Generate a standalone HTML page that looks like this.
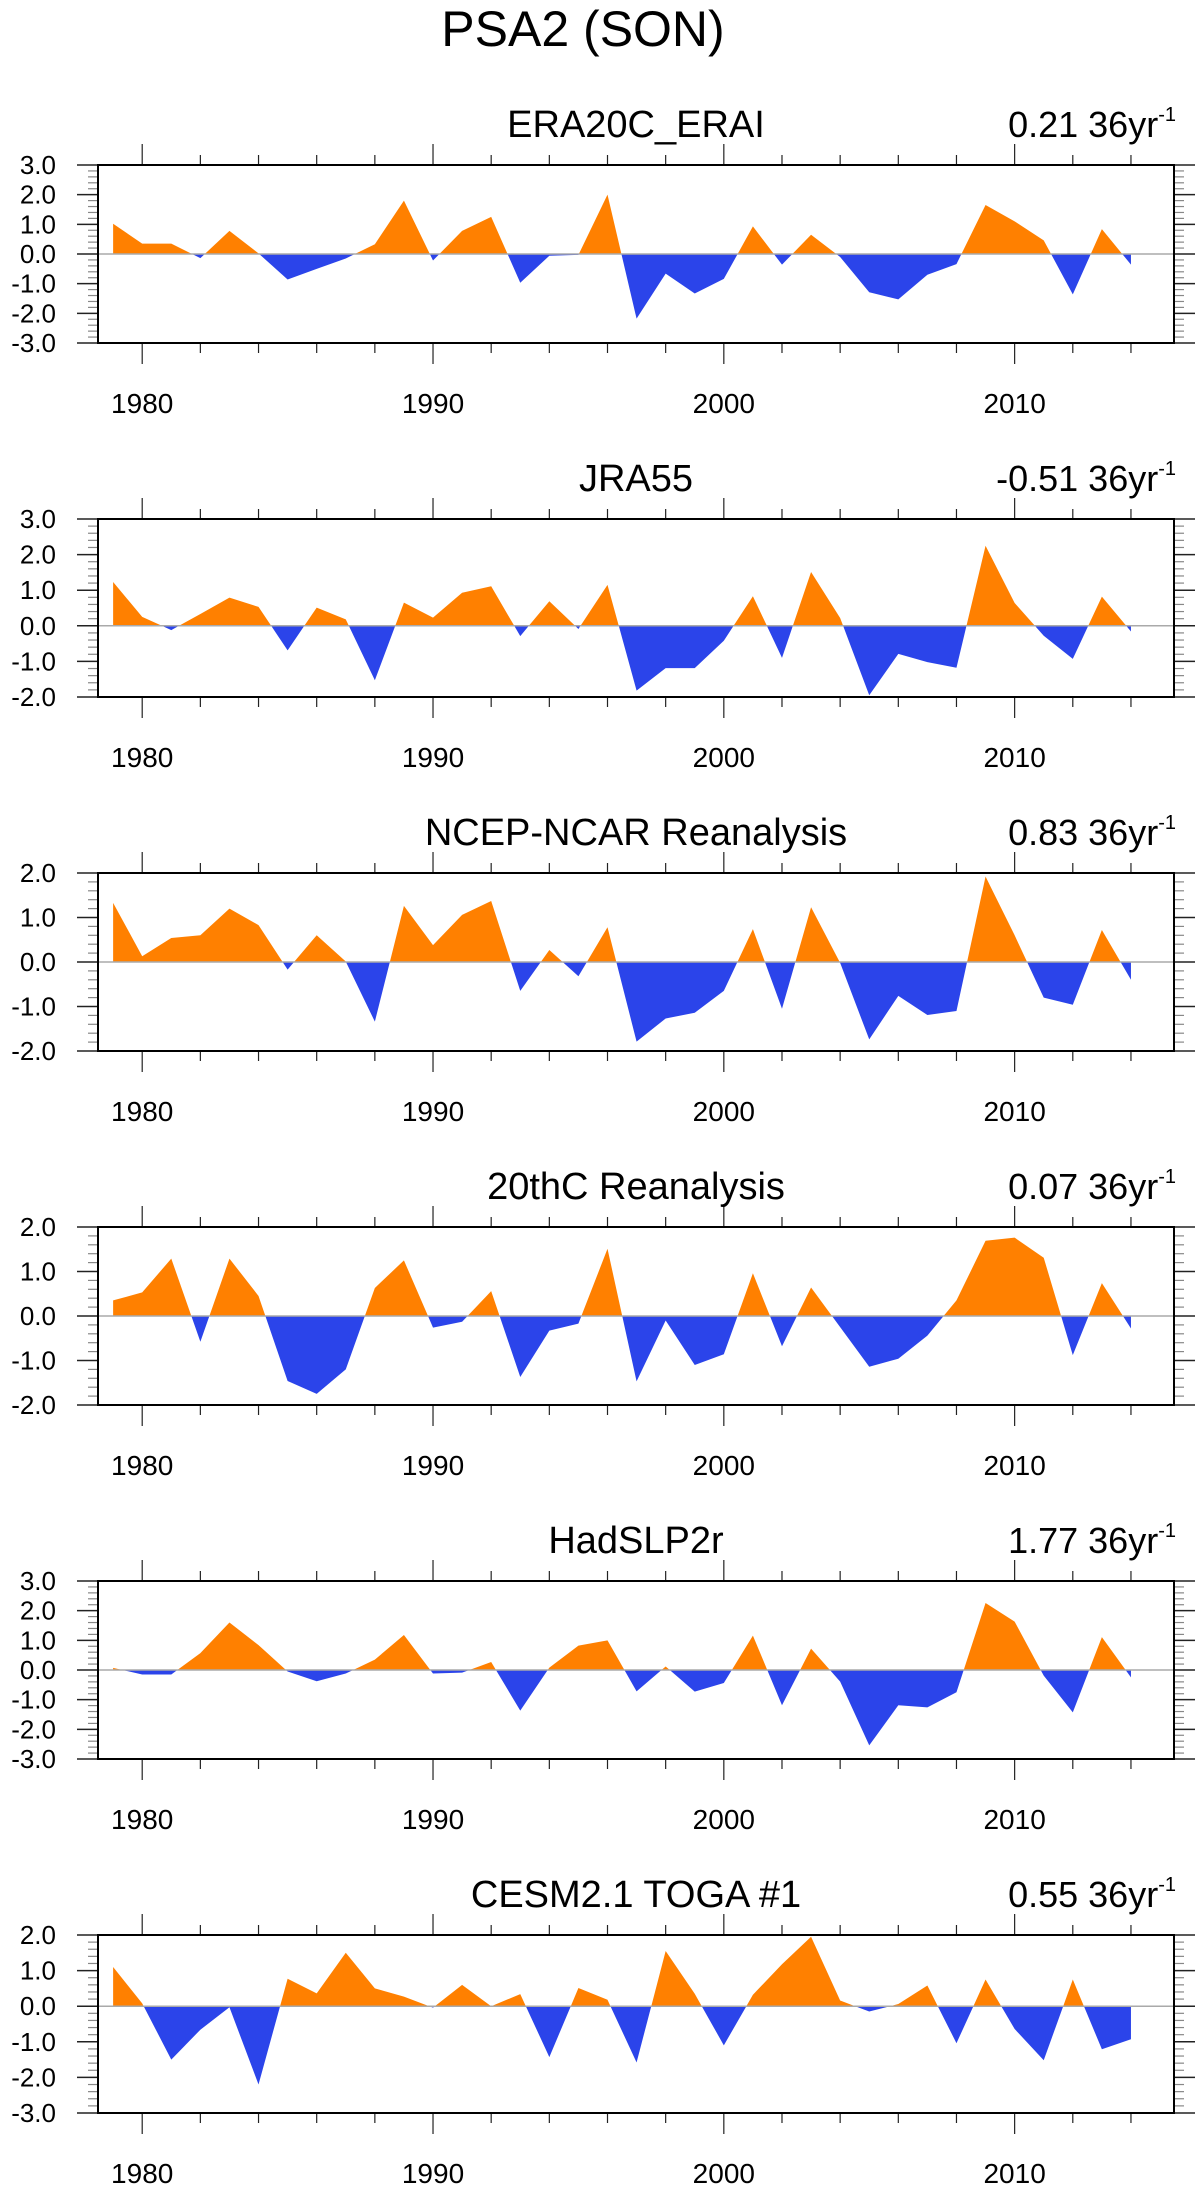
<!DOCTYPE html>
<html><head><meta charset="utf-8"><style>
html,body{margin:0;padding:0;background:#fff;}
svg{display:block;font-family:"Liberation Sans",sans-serif;}
</style></head><body>
<svg id="fig" width="1198" height="2186" viewBox="0 0 1198 2186" xmlns="http://www.w3.org/2000/svg">
<text x="583" y="46" font-size="50" text-anchor="middle">PSA2 (SON)</text>
</svg>
<script>
const years = [];
for (let y = 1979; y <= 2014; y++) years.push(y);
const panelNames = ["ERA20C_ERAI","JRA55","NCEP-NCAR Reanalysis","20thC Reanalysis","HadSLP2r","CESM2.1 TOGA #1"];
const trendLabels = ["0.21","-0.51","0.83","0.07","1.77","0.55"];
const yMins = [-3,-2,-2,-2,-3,-3];
const yMaxs = [3,3,2,2,3,2];
const seriesEra20c = [1.02,0.35,0.35,-0.14,0.78,0.02,-0.86,-0.5,-0.15,0.33,1.8,-0.22,0.78,1.25,-0.97,-0.06,-0.03,2.0,-2.18,-0.66,-1.33,-0.84,0.93,-0.36,0.65,-0.1,-1.29,-1.53,-0.7,-0.34,1.65,1.1,0.46,-1.36,0.84,-0.36];
const seriesJra55 = [1.23,0.25,-0.12,0.33,0.79,0.53,-0.69,0.51,0.18,-1.53,0.65,0.23,0.93,1.11,-0.29,0.69,-0.09,1.15,-1.82,-1.19,-1.19,-0.42,0.83,-0.9,1.51,0.22,-1.95,-0.79,-1.02,-1.18,2.25,0.64,-0.28,-0.93,0.82,-0.16];
const seriesNcep = [1.33,0.13,0.54,0.6,1.2,0.83,-0.17,0.6,0.01,-1.34,1.26,0.38,1.06,1.37,-0.65,0.27,-0.32,0.78,-1.79,-1.27,-1.14,-0.65,0.74,-1.05,1.23,-0.02,-1.74,-0.76,-1.19,-1.1,1.92,0.6,-0.8,-0.96,0.72,-0.4];
const series20c = [0.35,0.53,1.29,-0.58,1.29,0.45,-1.46,-1.75,-1.2,0.63,1.25,-0.26,-0.13,0.56,-1.37,-0.33,-0.17,1.51,-1.47,-0.1,-1.1,-0.86,0.96,-0.68,0.64,-0.25,-1.14,-0.96,-0.44,0.35,1.69,1.76,1.31,-0.88,0.74,-0.28];
const seriesHadslp = [0.07,-0.15,-0.15,0.57,1.6,0.84,-0.05,-0.38,-0.12,0.35,1.18,-0.12,-0.09,0.27,-1.37,0.08,0.82,1.0,-0.72,0.12,-0.73,-0.44,1.16,-1.19,0.72,-0.39,-2.54,-1.19,-1.26,-0.75,2.26,1.63,-0.19,-1.43,1.11,-0.25];
const seriesCesm = [1.1,0.08,-1.5,-0.66,-0.03,-2.2,0.77,0.36,1.5,0.5,0.27,-0.04,0.6,0.0,0.34,-1.43,0.51,0.18,-1.58,1.55,0.35,-1.1,0.32,1.18,1.95,0.16,-0.15,0.06,0.58,-1.04,0.75,-0.64,-1.52,0.75,-1.21,-0.93];
const allSeries = [seriesEra20c,seriesJra55,seriesNcep,series20c,seriesHadslp,seriesCesm];
const yearTickLabels = [1980,1990,2000,2010];

const NS = "http://www.w3.org/2000/svg";
const svg = document.getElementById("fig");
const L = 98, R = 1174, H = 178;
const tops = [165,519,873,1227,1581,1935];
const X0 = 1978.48, X1 = 2015.48;
function xs(yr){ return L + (yr - X0) / (X1 - X0) * (R - L); }
function mk(tag, attrs, parent){
  const e = document.createElementNS(NS, tag);
  for (const k in attrs) e.setAttribute(k, attrs[k]);
  (parent || svg).appendChild(e);
  return e;
}

allSeries.forEach((vals, p) => {
  const top = tops[p], bot = top + H, ymin = yMins[p], ymax = yMaxs[p];
  const ys = v => bot - (v - ymin) / (ymax - ymin) * H;
  const g = mk("g", {});
  
  

  const pts = [];
  for (let i = 0; i < vals.length; i++) {
    if (i > 0) {
      const a = vals[i-1], b = vals[i];
      if ((a > 0 && b < 0) || (a < 0 && b > 0)) {
        const t = a / (a - b);
        pts.push([years[i-1] + t, 0]);
      }
    }
    pts.push([years[i], vals[i]]);
  }
  const z = ys(0);
  const x0 = xs(years[0]), xn = xs(years[years.length-1]);
  let pos = `M${x0},${z} `, neg = `M${x0},${z} `;
  pts.forEach(([yr, v]) => {
    pos += `L${xs(yr).toFixed(2)},${ys(Math.max(v,0)).toFixed(2)} `;
    neg += `L${xs(yr).toFixed(2)},${ys(Math.min(v,0)).toFixed(2)} `;
  });
  pos += `L${xn},${z} Z`; neg += `L${xn},${z} Z`;
  const pp = mk("path", {d: pos, fill: "#FF8000", stroke: "none"}, g);
  
  
  const np = mk("path", {d: neg, fill: "#2B44EA", stroke: "none"}, g);
  
  

  const zl = mk("line", {x1: L, x2: R, y1: z, y2: z, stroke: "#aaa", "stroke-width": 1.5}, g);
  
  

  for (let v = ymin; v <= ymax + 1e-9; v += 0.2) {
    const vv = Math.round(v * 10) / 10;
    const y = ys(vv);
    const major = Math.abs(vv - Math.round(vv)) < 1e-6;
    const len = major ? 21 : 10;
    mk("line", {x1: L - len, x2: L, y1: y, y2: y, stroke: major ? "#222" : "#888", "stroke-width": major ? 1.5 : 1.2}, g);
    mk("line", {x1: R, x2: R + len, y1: y, y2: y, stroke: major ? "#222" : "#888", "stroke-width": major ? 1.5 : 1.2}, g);
    if (major) {
      const t = mk("text", {x: 56, y: y + 9, "font-size": 26, "text-anchor": "end"}, g);
      t.textContent = vv.toFixed(1);
      
      
    }
  }
  for (let yr = 1980; yr <= 2014; yr += 2) {
    const x = xs(yr);
    const major = yr % 10 === 0;
    const len = major ? 21 : 10;
    mk("line", {x1: x, x2: x, y1: top - len, y2: top, stroke: "#222", "stroke-width": 1.2}, g);
    mk("line", {x1: x, x2: x, y1: bot, y2: bot + len, stroke: "#222", "stroke-width": 1.2}, g);
  }
  yearTickLabels.forEach(yr => {
    const t = mk("text", {x: xs(yr), y: bot + 70, "font-size": 28, "text-anchor": "middle"}, g);
    t.textContent = yr;
    
    
  });
  const box = mk("rect", {x: L, y: top, width: R - L, height: H, fill: "none", stroke: "#000", "stroke-width": 2}, g);
  
  

  const st = mk("text", {x: (L + R) / 2, y: top - 28, "font-size": 38, "text-anchor": "middle"}, g);
  st.textContent = panelNames[p];
  
  

  const tr = mk("text", {x: 1176, y: top - 28, "font-size": 36, "text-anchor": "end"}, g);
  
  
  const s1 = mk("tspan", {}, tr); s1.textContent = trendLabels[p] + " 36yr";
  const s2 = mk("tspan", {dy: -16, "font-size": 20}, tr); s2.textContent = "-1";
});
</script>
</body></html>
